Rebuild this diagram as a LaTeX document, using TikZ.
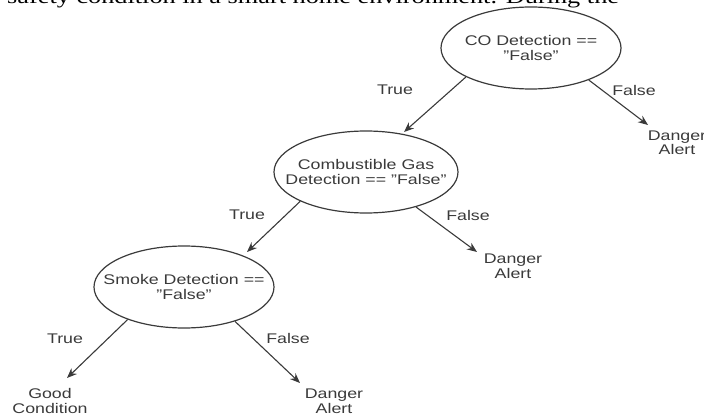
\documentclass[tikz,border=0pt]{standalone}
\usepackage{fontspec}
\setmainfont{Liberation Sans}[FakeStretch=1.27]
\newfontfamily\topserif{Liberation Serif}[FakeStretch=1.27]
\usetikzlibrary{shapes.geometric,arrows.meta}
\definecolor{ink}{HTML}{3A3A3A}
\tikzset{
  ell/.style={draw=ink, line width=1.2pt, ellipse, inner sep=0pt,
    minimum width=180pt, minimum height=82pt},
  txt/.style={align=center, text=ink, inner sep=0pt,
    font=\fontsize{14}{14.5}\selectfont},
  conn/.style={draw=ink, line width=1.1pt, -{Stealth[length=10pt,width=8pt]}},
}
\begin{document}
\begin{tikzpicture}[x=1pt,y=-1pt]
\useasboundingbox (0,0) rectangle (704,417);
\clip (0,0) rectangle (704,417);
% cut-off line of running text at the top
\node[anchor=base west, inner sep=0pt, font=\topserif\fontsize{20.7}{22}\selectfont]
  (toptext) at (7,3.2) {safety condition in a smart home environment. During the};
% decision nodes
\node[ell, label={[txt]center:CO Detection ==\\"False"}] (e1) at (531,48) {};
\node[ell, minimum width=184pt, label={[txt]center:Combustible Gas\\Detection == "False"}] (e2) at (366,172) {};
\node[ell, label={[txt]center:Smoke Detection ==\\"False"}] (e3) at (184,287) {};
% leaves
\node[txt] (d1) at (677,143) {Danger\\Alert};
\node[txt] (d2) at (513,266.5) {Danger\\Alert};
\node[txt] (d3) at (334,401) {Danger\\Alert};
\node[txt] (g3) at (50,401) {Good\\Condition};
% arrow tips
\coordinate (t1a) at (404,132);
\coordinate (t1b) at (648,125);
\coordinate (t2a) at (247,252);
\coordinate (t2b) at (477,252);
\coordinate (t3a) at (67,378);
\coordinate (t3b) at (300,383);
% connectors
\draw[conn] (e1.204.5) -- (t1a);
\draw[conn] (e1.331.5) -- (t1b);
\draw[conn] (e2.204.5) -- (t2a);
\draw[conn] (e2.325.5) -- (t2b);
\draw[conn] (e3.210.3) -- (t3a);
\draw[conn] (e3.326.6) -- (t3b);
% edge labels
\node[txt] (l1a) at (395,90) {True};
\node[txt] (l1b) at (634,90) {False};
\node[txt] (l2a) at (247,215) {True};
\node[txt] (l2b) at (468,215) {False};
\node[txt] (l3a) at (65,339) {True};
\node[txt] (l3b) at (288,338) {False};
\end{tikzpicture}
\end{document}
